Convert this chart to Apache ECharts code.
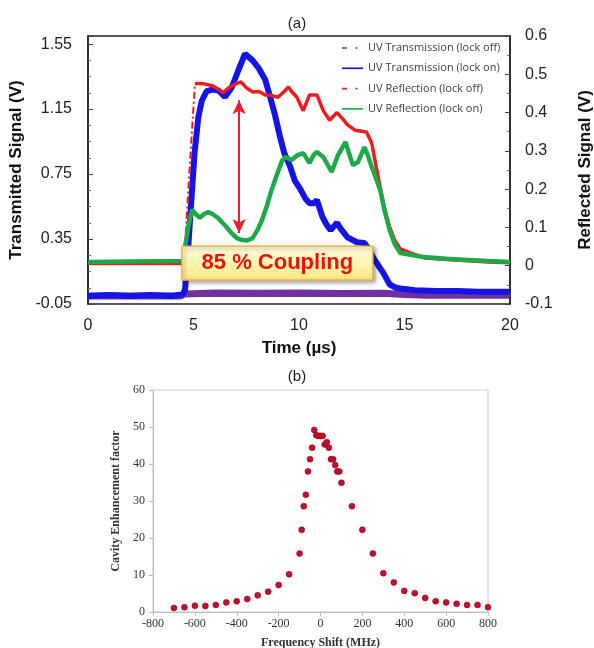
<!DOCTYPE html>
<html>
<head>
<meta charset="utf-8">
<script src="https://cdn.jsdelivr.net/npm/echarts@6/dist/echarts.min.js"></script>
<style>
  html, body { margin: 0; padding: 0; background: #fff; }
  #chart { width: 594px; height: 648px; }
</style>
</head>
<body>
<div id="chart"></div>
<script>
// ---------- Panel (a) data : [time (µs), signal (V)] ----------
const transLockOff = [
  [0, 0.0], [4.4, 0.0], [4.6, 0.012], [6, 0.018], [8, 0.016], [10, 0.018],
  [12, 0.015], [14, 0.016], [15, 0.008], [16, 0.004], [18, 0.004], [20, 0.004]
];
const transLockOn = [
  [0, 0.0], [1, 0.005], [2, 0.0], [3, 0.005], [4, 0.0], [4.5, 0.01],
  [4.6, 0.04], [4.75, 0.3], [4.91, 0.61], [5.05, 0.88], [5.23, 1.10],
  [5.39, 1.2], [5.62, 1.26], [5.9, 1.27], [6.18, 1.265], [6.49, 1.225],
  [6.8, 1.28], [7.1, 1.38], [7.44, 1.49], [7.8, 1.45], [8.1, 1.4],
  [8.4, 1.33], [8.6, 1.24], [8.85, 1.12], [9.1, 0.98], [9.3, 0.88],
  [9.57, 0.8], [9.8, 0.71], [10.05, 0.66], [10.3, 0.6], [10.5, 0.57],
  [10.7, 0.57], [10.85, 0.59], [11.1, 0.49], [11.3, 0.44], [11.5, 0.405],
  [11.8, 0.45], [12.0, 0.41], [12.3, 0.36], [12.75, 0.33], [13.1, 0.325],
  [13.3, 0.29], [13.5, 0.24], [13.75, 0.19], [14.0, 0.14], [14.3, 0.07],
  [14.6, 0.05], [14.8, 0.045], [15.5, 0.035], [16.5, 0.03], [17.5, 0.03],
  [18.5, 0.025], [20, 0.025]
];
const reflLockOff = [
  [0, 0.006], [2, 0.006], [4.55, 0.006], [4.8, 0.24], [5.07, 0.476],
  [5.5, 0.475], [5.9, 0.47], [6.2, 0.46], [6.4, 0.452], [6.65, 0.464],
  [7.0, 0.475], [7.25, 0.48], [7.5, 0.465], [7.8, 0.454], [8.1, 0.455],
  [8.4, 0.446], [8.7, 0.445], [9.0, 0.44], [9.3, 0.455], [9.5, 0.467],
  [9.65, 0.455], [9.9, 0.44], [10.2, 0.405], [10.5, 0.446], [10.85, 0.446],
  [11.15, 0.405], [11.45, 0.38], [11.8, 0.4], [12.05, 0.385], [12.3, 0.368],
  [12.65, 0.354], [13.2, 0.349], [13.45, 0.32], [13.65, 0.26], [13.85, 0.205],
  [14.05, 0.15], [14.3, 0.1], [14.55, 0.065], [14.8, 0.044], [15.25, 0.034],
  [16, 0.02], [17, 0.016], [18, 0.013], [19, 0.01], [20, 0.008]
];
const reflLockOn = [
  [0, 0.01], [2, 0.011], [4.5, 0.012], [4.6, 0.05], [4.75, 0.1],
  [4.93, 0.146], [5.1, 0.135], [5.3, 0.125], [5.5, 0.135], [5.7, 0.14],
  [5.9, 0.135], [6.15, 0.125], [6.5, 0.105], [6.8, 0.085], [7.05, 0.072],
  [7.3, 0.067], [7.55, 0.066], [7.8, 0.072], [8.05, 0.095], [8.25, 0.12],
  [8.5, 0.16], [8.7, 0.198], [9.0, 0.245], [9.2, 0.275], [9.35, 0.284],
  [9.5, 0.28], [9.65, 0.276], [9.9, 0.288], [10.2, 0.294], [10.5, 0.268],
  [10.7, 0.29], [10.85, 0.297], [11.15, 0.284], [11.55, 0.245], [11.85, 0.289],
  [12.2, 0.323], [12.55, 0.263], [12.8, 0.271], [13.1, 0.31], [13.25, 0.29],
  [13.45, 0.258], [13.85, 0.198], [14.05, 0.145], [14.3, 0.093], [14.55, 0.055],
  [14.8, 0.033], [15.9, 0.023], [17, 0.018], [18, 0.015], [19, 0.012], [20, 0.01]
];
// Coupling annotation: arrow at time, from V to V (left axis); box in data coords
const couplingArrow = [7.16, 0.387, 1.205];
const couplingBox = [4.45, 0.305, 13.5, 0.098];
const couplingText = '85 % Coupling';

// ---------- Panel (b) data ----------
const freqShift = [
  -700, -650, -600, -550, -500, -450, -400, -350, -300, -250, -200, -150,
  -100, -90, -80, -70, -60, -50, -40, -30, -20, -10, 0, 10, 20, 30, 40, 50,
  60, 70, 80, 90, 100, 150, 200, 250, 300, 350, 400, 450, 500, 550, 600,
  650, 700, 750, 800
];
const enhancement = [
  1.1, 1.3, 1.7, 1.6, 1.9, 2.6, 2.9, 3.5, 4.5, 5.5, 7.3, 10.2,
  15.8, 22.2, 28.6, 31.7, 38.0, 41.3, 44.4, 49.2, 47.8, 47.6, 47.6, 47.6, 45.3, 45.9, 44.4, 41.3,
  41.3, 39.7, 38.0, 38.0, 34.9, 28.6, 22.2, 15.8, 10.5, 8.0, 5.7, 5.1, 3.8, 2.9, 2.6,
  2.2, 1.9, 1.9, 1.3
];

const legendNames = [
  'UV Transmission (lock off)', 'UV Transmission (lock on)',
  'UV Reflection (lock off)', 'UV Reflection (lock on)'
];

const C_PURPLE = '#7030a0', C_BLUE = '#1414e6', C_RED = '#ee1c1c', C_GREEN = '#1fa84a';
const sans = 'Liberation Sans', serif = 'Liberation Serif';
const ICON_SOLID = 'path://M0,0h25v2h-25z';
const ICON_DASHDOT = 'path://M0,0h6v2h-6zM16,0h2.5v2h-2.5zM25,0h0v2h0z';

const redRise = reflLockOff.filter(p => p[0] >= 4.55 && p[0] <= 5.07);
const redSolid = reflLockOff.map(p => (p[0] > 4.55 && p[0] < 5.07) ? [p[0], '-'] : p);

const chart = echarts.init(document.getElementById('chart'), null, { renderer: 'canvas' });

const option = {
  animation: false,
  backgroundColor: '#fff',
  title: [
    { text: '(a)', left: 'center', top: 11, textStyle: { fontFamily: sans, fontSize: 15, fontWeight: 'normal', color: '#222' } },
    { text: '(b)', left: 'center', top: 364, textStyle: { fontFamily: sans, fontSize: 15, fontWeight: 'normal', color: '#222' } }
  ],
  grid: [
    { left: 88, top: 36, width: 422, height: 268, show: true, borderColor: '#222', borderWidth: 1.5,
      containLabel: false, outerBoundsMode: 'none' },
    { left: 153, top: 390, width: 335, height: 222, show: true, borderColor: '#c8c8c8', borderWidth: 1,
      containLabel: false, outerBoundsMode: 'none' }
  ],
  legend: {
    orient: 'vertical', left: 342, top: 41, itemGap: 6.3, padding: 0,
    itemWidth: 21, itemHeight: 2, align: 'left',
    textStyle: { fontFamily: 'Open Sans', fontSize: 11, color: '#404040', lineHeight: 14 },
    data: [
      { name: legendNames[0], icon: ICON_DASHDOT, itemStyle: { color: C_PURPLE } },
      { name: legendNames[1], icon: ICON_SOLID, itemStyle: { color: C_BLUE } },
      { name: legendNames[2], icon: ICON_DASHDOT, itemStyle: { color: C_RED } },
      { name: legendNames[3], icon: ICON_SOLID, itemStyle: { color: C_GREEN } }
    ]
  },
  xAxis: [
    {
      gridIndex: 0, type: 'value', min: 0, max: 20, interval: 5,
      name: 'Time (µs)', nameLocation: 'middle', nameGap: 36,
      nameTextStyle: { fontFamily: sans, fontSize: 17, fontWeight: 'bold', color: '#111' },
      axisLine: { show: true, lineStyle: { color: '#222', width: 1.5 } },
      axisTick: { show: true, inside: true, length: 4, lineStyle: { color: '#444' } },
      minorTick: { show: true, splitNumber: 5, length: 2, lineStyle: { color: '#444' } },
      axisLabel: { fontFamily: sans, fontSize: 16, color: '#222', margin: 14 },
      splitLine: { show: false }
    },
    {
      gridIndex: 1, type: 'value', min: -800, max: 800, interval: 200,
      name: 'Frequency Shift (MHz)', nameLocation: 'middle', nameGap: 25,
      nameTextStyle: { fontFamily: serif, fontSize: 12, fontWeight: 'bold', color: '#333' },
      axisLine: { show: true, onZero: false, lineStyle: { color: '#bdbdbd', width: 1 } },
      axisTick: { show: true, inside: false, length: 4, lineStyle: { color: '#bdbdbd' } },
      axisLabel: { fontFamily: serif, fontSize: 12, color: '#333', margin: 6 },
      splitLine: { show: false }
    }
  ],
  yAxis: [
    {
      gridIndex: 0, type: 'value', min: -0.05, max: 1.6, interval: 0.4, position: 'left',
      name: 'Transmitted Signal (V)', nameLocation: 'middle', nameGap: 54, nameRotate: 90,
      nameTextStyle: { fontFamily: sans, fontSize: 17, fontWeight: 'bold', color: '#111' },
      axisLine: { show: true, lineStyle: { color: '#222', width: 1.5 } },
      axisTick: { show: true, inside: true, length: 5, lineStyle: { color: '#444' } },
      minorTick: { show: true, splitNumber: 4, length: 3, lineStyle: { color: '#666' } },
      axisLabel: { fontFamily: sans, fontSize: 16, color: '#222', margin: 16, showMaxLabel: false,
        formatter: v => v.toFixed(2) },
      splitLine: { show: false }
    },
    {
      gridIndex: 0, type: 'value', min: -0.1, max: 0.6, interval: 0.1, position: 'right',
      name: 'Reflected Signal (V)', nameLocation: 'middle', nameGap: 67, nameRotate: 90,
      nameTextStyle: { fontFamily: sans, fontSize: 17, fontWeight: 'bold', color: '#111' },
      axisLine: { show: true, lineStyle: { color: '#222', width: 1.5 } },
      axisTick: { show: true, inside: true, length: 5, lineStyle: { color: '#444' } },
      minorTick: { show: true, splitNumber: 2, length: 3, lineStyle: { color: '#666' } },
      axisLabel: { fontFamily: sans, fontSize: 16, color: '#222', margin: 15,
        formatter: v => String(Math.round(v * 10) / 10) },
      splitLine: { show: false }
    },
    {
      gridIndex: 1, type: 'value', min: 0, max: 60, interval: 10,
      name: 'Cavity Enhancement factor', nameLocation: 'middle', nameGap: 23, nameRotate: 90,
      nameTextStyle: { fontFamily: serif, fontSize: 12, fontWeight: 'bold', color: '#333' },
      axisLine: { show: true, onZero: false, lineStyle: { color: '#bdbdbd', width: 1 } },
      axisTick: { show: true, inside: false, length: 4, lineStyle: { color: '#bdbdbd' } },
      axisLabel: { fontFamily: serif, fontSize: 12, color: '#333', margin: 8 },
      splitLine: { show: false }
    }
  ],
  series: [
    {
      name: legendNames[0], type: 'line', xAxisIndex: 0, yAxisIndex: 0,
      data: transLockOff, showSymbol: false, symbol: 'none',
      lineStyle: { color: C_PURPLE, width: 7 }, itemStyle: { color: C_PURPLE }, z: 2
    },
    {
      name: legendNames[1], type: 'line', xAxisIndex: 0, yAxisIndex: 0,
      data: transLockOn, showSymbol: false, symbol: 'none',
      lineStyle: { color: C_BLUE, width: 6 }, itemStyle: { color: C_BLUE }, z: 3,
      markLine: {
        silent: true, symbol: ['arrow', 'arrow'], symbolSize: [10, 14],
        lineStyle: { color: '#e8202a', width: 2, type: 'solid' },
        label: { show: false },
        data: [[{ coord: [couplingArrow[0], couplingArrow[1]] }, { coord: [couplingArrow[0], couplingArrow[2]] }]],
        z: 6
      }
    },
    {
      name: legendNames[2], type: 'line', xAxisIndex: 0, yAxisIndex: 1,
      data: redSolid, showSymbol: false, symbol: 'none', connectNulls: false,
      lineStyle: { color: C_RED, width: 3.5 }, itemStyle: { color: C_RED }, z: 4
    },
    {
      name: legendNames[2], type: 'line', xAxisIndex: 0, yAxisIndex: 1,
      data: redRise, showSymbol: false, symbol: 'none',
      lineStyle: { color: C_RED, width: 2, type: [7, 3, 2, 3] }, itemStyle: { color: C_RED }, z: 4
    },
    {
      name: legendNames[3], type: 'line', xAxisIndex: 0, yAxisIndex: 1,
      data: reflLockOn, showSymbol: false, symbol: 'none',
      lineStyle: { color: C_GREEN, width: 4.5 }, itemStyle: { color: C_GREEN }, z: 5
    },
    {
      name: 'Cavity Enhancement', type: 'scatter', xAxisIndex: 1, yAxisIndex: 2,
      data: freqShift.map((f, i) => [f, enhancement[i]]),
      symbol: 'circle', symbolSize: 6,
      itemStyle: { color: '#c0102c', borderColor: '#8a0a20', borderWidth: 0.6, opacity: 1 }
    }
  ]
};
chart.setOption(option);

// Annotation box placed from data coordinates
const p1 = chart.convertToPixel({ xAxisIndex: 0, yAxisIndex: 0 }, [couplingBox[0], couplingBox[1]]);
const p2 = chart.convertToPixel({ xAxisIndex: 0, yAxisIndex: 0 }, [couplingBox[2], couplingBox[3]]);
const bx = p1[0], by = p1[1], bw = p2[0] - p1[0], bh = p2[1] - p1[1];
chart.setOption({
  graphic: [{
    type: 'group', z: 100,
    children: [
      {
        type: 'rect', z: 100,
        shape: { x: bx, y: by, width: bw, height: bh },
        style: {
          fill: new echarts.graphic.LinearGradient(0, 0, 0, 1, [
            { offset: 0, color: '#fffbe0' }, { offset: 0.5, color: '#fff6b0' }, { offset: 1, color: '#ffe680' }
          ]),
          stroke: '#e9b949', lineWidth: 1.5,
          shadowBlur: 4, shadowOffsetX: 2, shadowOffsetY: 2, shadowColor: 'rgba(0,0,0,0.35)'
        }
      },
      {
        type: 'text', z: 101,
        style: {
          x: bx + bw / 2, y: by + bh / 2, text: couplingText,
          font: 'bold 22px "Liberation Sans", Arial, sans-serif',
          fill: '#ee1111', align: 'center', verticalAlign: 'middle'
        }
      }
    ]
  }]
});
</script>
</body>
</html>
